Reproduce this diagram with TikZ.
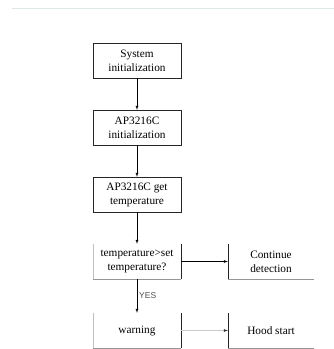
\documentclass[tikz,border=0pt]{standalone}
\usepackage{fontspec}
\setmainfont{Liberation Serif}
\newfontfamily\yesfont{Liberation Sans}
\definecolor{rulegray}{RGB}{222,232,232}
\definecolor{edgegray}{RGB}{150,150,150}
\begin{document}
\begin{tikzpicture}[x=1pt,y=-1pt]
    \tikzstyle{every picture}=[line width=0.6pt]
    \tikzstyle{every node}=[inner sep=2pt,align=center,font=\fontsize{11.3}{14}\selectfont]
    \tikzstyle{box}=[draw=black!85,minimum width=88pt,minimum height=35pt]
    \tikzstyle{openbox}=[minimum width=88pt,minimum height=35pt]
    \useasboundingbox (0,0) rectangle (334,349);
    \draw[rulegray] (12,8) -- (334,8);
    \draw (137,60.5) node[box] (sys) {System\\initialization};
    \draw (137,127.5) node[box] (init) {AP3216C\\initialization};
    \draw (137,194.5) node[box] (get) {AP3216C get\\temperature};
    \draw (137,261.5) node[openbox] (judge) {temperature>set\\temperature?};
    \draw (137,330.5) node[openbox] (warn) {warning};
    \draw (271,261.5) node[openbox,minimum width=86pt] (cont) {Continue\\detection};
    \draw (271,330.5) node[openbox,minimum width=86pt] (hood) {Hood start};
    % partly drawn borders
    \draw[edgegray!60] (judge.north west) -- (judge.south west);
    \draw[edgegray] (judge.south west) -- (judge.south east);
    \draw[black!85] (judge.north east) -- (judge.south east);
    \draw[edgegray!60] (warn.north west) -- (warn.south west);
    \draw[edgegray] (warn.south west) -- (warn.south east);
    \draw[black!85] (warn.north east) -- (warn.south east);
    \draw[black!85] (cont.north west) -- (cont.south west);
    \draw[edgegray] (cont.south west) -- (cont.south east);
    \draw[black!85] (hood.north west) -- (hood.south west);
    \draw[edgegray] (hood.south west) -- (hood.south east);
    % arrows
    \draw[-latex] (sys) -- (init);
    \draw[-latex] (init) -- (get);
    \draw[-latex] (get) -- (judge);
    \draw[-latex] (judge) -- (cont);
    \draw[-latex] (judge) -- node[right,font=\yesfont\fontsize{8.5}{10}\selectfont,text=black!70] (yes) {YES} (warn);
    \draw[-{latex[black!80]},edgegray!50] (warn) -- (hood);
\end{tikzpicture}
\end{document}
